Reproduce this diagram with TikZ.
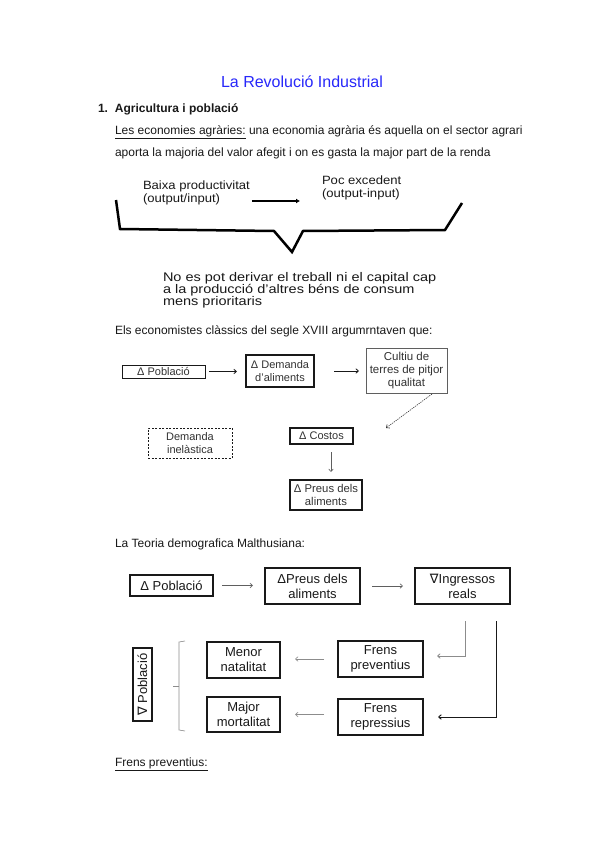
\documentclass[tikz,border=0pt]{standalone}
\usepackage{fontspec}
\setmainfont{Liberation Sans}
\newfontfamily\dvs{DejaVu Sans}
\newfontfamily\wideA[FakeStretch=1.09]{Liberation Sans}
\newfontfamily\wideB[FakeStretch=1.16]{Liberation Sans}
\usetikzlibrary{arrows.meta}
\definecolor{titleblue}{RGB}{40,40,250}
\definecolor{ink}{RGB}{25,25,25}
\definecolor{ink2}{RGB}{50,50,50}
\definecolor{lgray}{RGB}{140,140,140}
\definecolor{mgray}{RGB}{95,95,95}
\newcommand{\fsz}[2]{\fontsize{#1}{#2}\selectfont}
\begin{document}
\begin{tikzpicture}[x=1pt,y=-1pt,
  every node/.style={inner sep=0pt,outer sep=0pt,text=ink},
  txtline/.style={anchor=base west,font=\fsz{12}{14}},
  bx/.style={draw=ink,align=center,line width=#1},
  bx/.default=1.2pt,
  tipA/.style={-{Straight Barb[length=2.6pt,width=4.6pt]}},
  arrA/.style={tipA,draw=ink,line width=0.8pt},
  arrB/.style={tipA,draw=mgray,line width=0.6pt},
  arrC/.style={tipA,draw=lgray,line width=0.6pt},
]
\useasboundingbox[fill=white] (0,0) rectangle (599,848);

% ---- header text
\node[anchor=base,font=\fsz{16}{18},text=titleblue] (title) at (302,88) {La Revolució Industrial};
\node[txtline,font=\fsz{12}{14}\bfseries] (h1) at (98,113) {\makebox[17pt][l]{1.}Agricultura i població};
\node[txtline] (l1) at (115,134.5) {\underline{Les economies agràries:} una economia agrària és aquella on el sector agrari};
\node[txtline] (l2) at (115,156) {aporta la majoria del valor afegit i on es gasta la major part de la renda};

% ---- brace scheme
\node[txtline,font=\wideA\fsz{12}{13}] (b1) at (143,189) {Baixa productivitat};
\node[txtline,font=\wideA\fsz{12}{13}] (b2) at (143,202) {(output/input)};
\node[txtline,font=\wideA\fsz{12}{13}] (c1) at (322,184) {Poc excedent};
\node[txtline,font=\wideA\fsz{12}{13}] (c2) at (322,197) {(output-input)};
\coordinate (ya) at (0,201);
\draw[line width=2pt,-{Latex[length=4pt,width=5pt]},shorten <=2pt,shorten >=22pt] (b1.east |- ya) -- (c2.west |- ya);
\draw[line width=2.5pt,line join=miter] (116,200) -- (120,229) -- (274,231) -- (292,252) -- (303,231) -- (445,230) -- (462,203);

\node[txtline,font=\wideB\fsz{12.5}{12}] (n1) at (163,281) {No es pot derivar el treball ni el capital cap};
\node[txtline,font=\wideB\fsz{12.5}{12}] (n2) at (163,293) {a la producció d’altres béns de consum};
\node[txtline,font=\wideB\fsz{12.5}{12}] (n3) at (163,305) {mens prioritaris};

\node[txtline] (els) at (115,334) {Els economistes clàssics del segle XVIII argumrntaven que:};

% ---- diagram 1
\node[bx=0.9pt,minimum width=83pt,minimum height=13pt,font=\fsz{11}{12},text=ink2] (p1) at (163.5,371.5) {Δ Població};
\node[bx=1.6pt,minimum width=68pt,minimum height=32pt,font=\fsz{11}{12.7},text=ink2] (d1) at (280,371) {Δ Demanda\\d’aliments};
\node[draw=mgray,line width=1pt,align=center,minimum width=81pt,minimum height=45pt,font=\fsz{11.5}{13.3},text=ink2] (cu) at (406.5,370.5) {Cultiu de\\terres de pitjor\\qualitat};
\draw[arrA,shorten <=4pt,shorten >=9pt] (p1.east) -- (p1.east -| d1.west);
\draw[arrA,shorten <=20pt,shorten >=7pt] (d1.east) -- (d1.east -| cu.west);
\coordinate (dA) at (432,394);
\coordinate (dB) at (386,428);
\draw[tipA,draw=ink2,line width=0.6pt,dash pattern=on 1.2pt off 1pt] (dA) -- (dB);

\node[draw=ink,line width=0.9pt,dash pattern=on 2pt off 1.5pt,align=center,minimum width=84pt,minimum height=30pt,font=\fsz{11}{12.5},text=ink2] (in) at (190,443) {Demanda\\inelàstica};
\node[bx=1.2pt,minimum width=63pt,minimum height=16pt,font=\fsz{11}{12},text=ink2] (co) at (321.5,436) {Δ Costos};
\node[bx=1.2pt,minimum width=72pt,minimum height=30pt,font=\fsz{11.3}{12.5},text=ink2] (pr1) at (326,495) {Δ Preus dels\\ aliments};
\draw[arrB,shorten <=8pt,shorten >=8pt] ([xshift=9.5pt]co.south) -- ([xshift=5pt]pr1.north);

% ---- diagram 2
\node[txtline] (mal) at (115,547) {La Teoria demografica Malthusiana:};
\node[bx=1.5pt,minimum width=83pt,minimum height=21pt,font=\fsz{13}{15}] (p2) at (171.5,585.5) {Δ Població};
\node[bx=1.5pt,minimum width=95pt,minimum height=36pt,font=\fsz{13}{15}] (pr2) at (312.5,586) {ΔPreus dels\\aliments};
\node[bx=1.5pt,minimum width=95pt,minimum height=36pt,font=\fsz{13}{15}] (ing) at (462.5,586) {{\dvs ∇}Ingressos\\reals};
\draw[arrB,shorten <=9pt,shorten >=12pt] (p2.east) -- (p2.east -| pr2.west);
\draw[arrB,shorten <=12pt,shorten >=12pt] (pr2.east) -- (pr2.east -| ing.west);

% ---- diagram 3
\node[bx=1.5pt,rotate=90,minimum width=73pt,minimum height=19pt,font=\fsz{13}{15}] (pob) at (142.5,684.5) {{\dvs ∇} Població};
\node[bx=1.5pt,minimum width=73pt,minimum height=36pt,font=\fsz{13}{15}] (mn) at (243.5,660) {Menor\\natalitat};
\node[bx=1.5pt,minimum width=73pt,minimum height=35pt,font=\fsz{13}{15}] (mm) at (243.5,714.5) {Major\\mortalitat};
\node[bx=1.5pt,minimum width=85pt,minimum height=36pt,font=\fsz{13}{15}] (fp) at (380.5,659) {Frens\\preventius};
\node[bx=1.5pt,minimum width=85pt,minimum height=36pt,font=\fsz{13}{15}] (fr) at (380.5,717) {Frens\\repressius};
\draw[arrC,shorten <=14pt,shorten >=15pt] (fp.west) -- (fp.west -| mn.east);
\draw[arrC,shorten <=14pt,shorten >=15pt] (mm.east -| fr.west) -- (mm.east);
\coordinate (L1) at (465,621);
\coordinate (L2) at (496,621);
\draw[arrC,line width=0.8pt] (L1) |- ([xshift=14pt,yshift=3pt]fp.east);
\draw[tipA,draw=ink,line width=0.9pt] (L2) |- ([xshift=15pt]fr.east);
\draw[draw=lgray,line width=0.6pt] (185,641) -- (179,642) -- (179,730) -- (185,731);
\draw[draw=lgray,line width=0.6pt] (179,686) -- (173,686);

\node[txtline] (fpv) at (115,766) {\underline{Frens preventius:}};
\end{tikzpicture}
\end{document}
